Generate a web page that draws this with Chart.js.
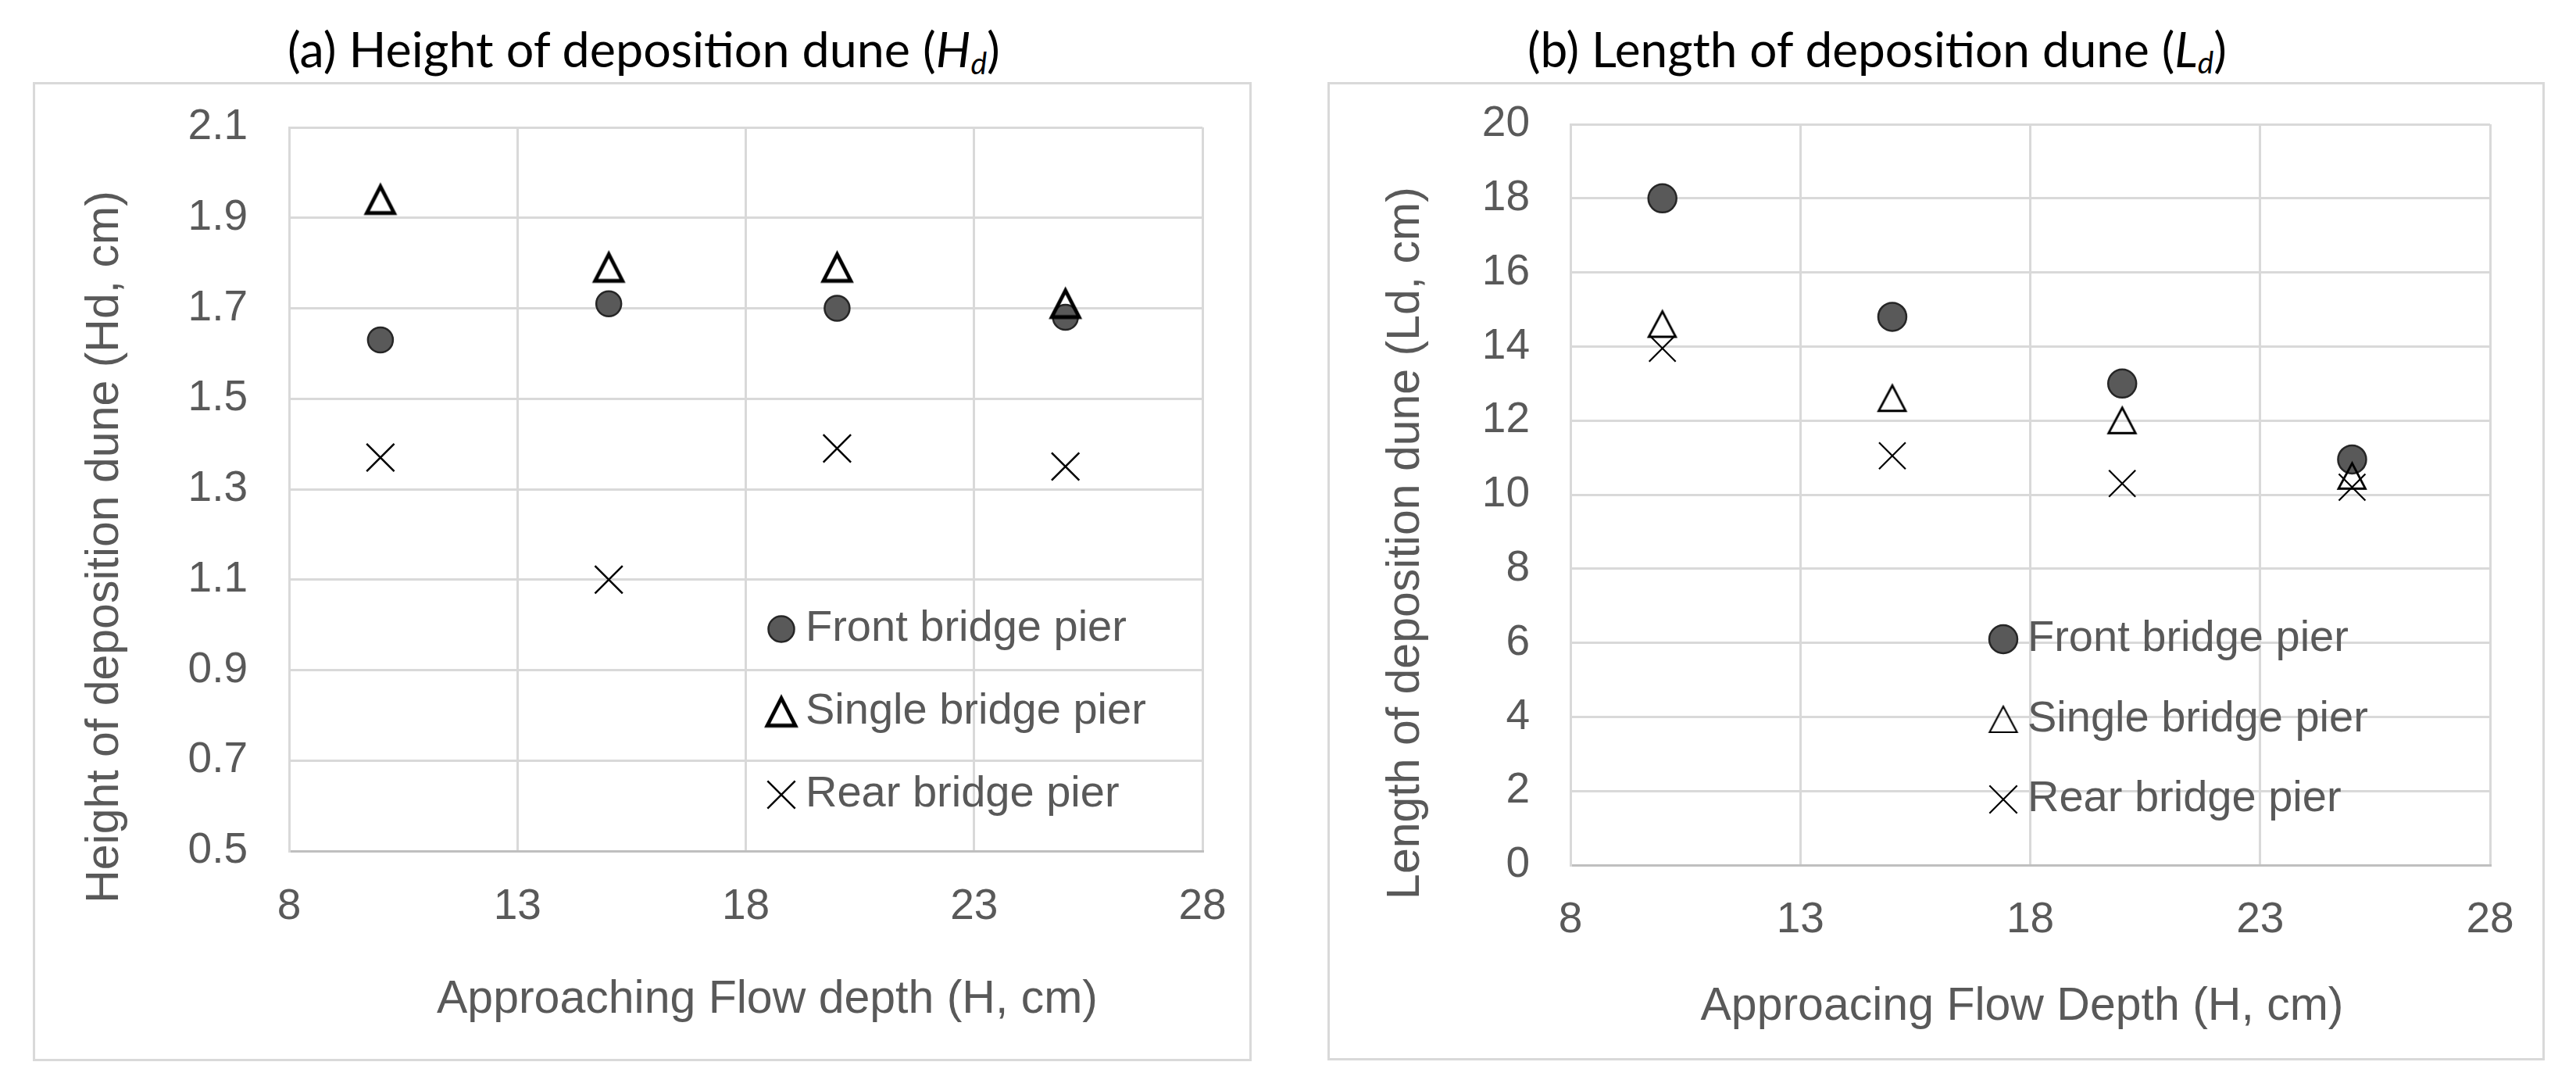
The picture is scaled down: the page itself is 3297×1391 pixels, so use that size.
<!DOCTYPE html>
<html>
<head>
<meta charset="utf-8">
<script src="https://cdn.jsdelivr.net/npm/chart.js@4.4.1/dist/chart.umd.min.js"></script>
<style>
  html, body { margin: 0; padding: 0; background: #fff; }
  body { width: 3297px; height: 1391px; position: relative; overflow: hidden; }
  .frame { position: absolute; box-sizing: border-box; border: 3px solid #d9d9d9; background: #fff; }
  canvas { position: absolute; }
  .title { position: absolute; white-space: nowrap; font-family: Lato, "Open Sans", sans-serif; font-size: 52px; line-height: 1; color: #000; }
  .title sub { font-size: 0.62em; vertical-align: -0.22em; line-height: 0; }
</style>
</head>
<body>
<div class="frame" style="left:42px;top:105px;width:1560px;height:1253px"></div>
<div class="frame" style="left:1699px;top:105px;width:1558px;height:1252px"></div>
<canvas id="hd_chart" width="1560" height="1253" style="left:42px;top:105px"></canvas>
<canvas id="ld_chart" width="1558" height="1252" style="left:1699px;top:105px"></canvas>
<div class="title" data-w="912" style="left:368px;top:31px">(a) Height of deposition dune (<i>H<sub>d</sub></i>)</div>
<div class="title" data-w="895" style="left:1955px;top:31px">(b) Length of deposition dune (<i>L<sub>d</sub></i>)</div>
<script>
// approaching flow depth (cm)
const depths = [10, 15, 20, 25];
const xTicks = [8, 13, 18, 23, 28];

// (a) height of deposition dune Hd (cm)
const hdFront = [1.63, 1.71, 1.70, 1.68];
const hdSingle = [1.94, 1.79, 1.79, 1.71];
const hdRear = [1.37, 1.10, 1.39, 1.35];
const hdTicks = [0.5, 0.7, 0.9, 1.1, 1.3, 1.5, 1.7, 1.9, 2.1];

// (b) length of deposition dune Ld (cm)
const ldFront = [18.0, 14.8, 13.0, 10.95];
const ldSingle = [14.6, 12.6, 12.0, 10.5];
const ldRear = [13.95, 11.05, 10.3, 10.2];
const ldTicks = [0, 2, 4, 6, 8, 10, 12, 14, 16, 18, 20];

const seriesNames = ['Front bridge pier', 'Single bridge pier', 'Rear bridge pier'];

const FONT = '"Liberation Sans", Arial, sans-serif';
const GREY = '#595959';

// fit the two chart titles to the width they take in the figure
document.querySelectorAll('.title').forEach(el => {
  const w = el.getBoundingClientRect().width;
  el.style.fontSize = (52 * Number(el.dataset.w) / w).toFixed(2) + 'px';
});

// excel style open triangle, centred on its box
function triangle(w, h, lw) {
  const pad = Math.ceil(lw * 3);
  const c = document.createElement('canvas');
  c.width = Math.round(w + pad * 2);
  c.height = Math.round(h + pad * 2);
  const g = c.getContext('2d');
  g.lineWidth = lw;
  g.lineJoin = 'miter';
  g.strokeStyle = '#000';
  g.beginPath();
  g.moveTo(c.width / 2, pad);
  g.lineTo(pad, pad + h);
  g.lineTo(pad + w, pad + h);
  g.closePath();
  g.stroke();
  return c;
}

function toPoints(ys) {
  return depths.map((x, i) => ({x: x, y: ys[i]}));
}

const panelExtras = {
  id: 'panelExtras',
  afterDraw(chart, args, o) {
    const ctx = chart.ctx;
    ctx.save();
    ctx.fillStyle = GREY;
    ctx.textBaseline = 'middle';
    ctx.textAlign = 'center';
    ctx.font = o.axisSize + 'px ' + FONT;
    ctx.fillText(o.xTitle, o.xTitleAt[0], o.xTitleAt[1]);
    ctx.save();
    ctx.translate(o.yTitleAt[0], o.yTitleAt[1]);
    ctx.rotate(-Math.PI / 2);
    ctx.fillText(o.yTitle, 0, 0);
    ctx.restore();

    ctx.font = o.legendSize + 'px ' + FONT;
    ctx.textAlign = 'left';
    chart.data.datasets.forEach((ds, i) => {
      const m = o.markers[i];
      const y = o.legendAt[1] + i * o.legendStep;
      ctx.save();
      ctx.fillStyle = ds.backgroundColor;
      ctx.strokeStyle = ds.borderColor;
      ctx.lineWidth = m.borderWidth;
      Chart.helpers.drawPoint(ctx, {pointStyle: m.pointStyle, radius: m.radius, borderWidth: m.borderWidth, rotation: 0}, o.legendAt[0], y);
      ctx.restore();
      ctx.fillStyle = GREY;
      ctx.fillText(ds.label, o.legendTextX, y);
    });
    ctx.restore();
  }
};

function makeChart(id, cfg) {
  const ctx = document.getElementById(id).getContext('2d');
  return new Chart(ctx, {
    type: 'scatter',
    data: {
      datasets: [{
        label: seriesNames[0],
        data: toPoints(cfg.front),
        pointStyle: 'circle',
        pointRadius: cfg.circleR,
        backgroundColor: GREY,
        borderColor: '#262626',
        borderWidth: 2.5,
        order: 3
      }, {
        label: seriesNames[1],
        data: toPoints(cfg.single),
        pointStyle: cfg.tri,
        pointRadius: 18,
        backgroundColor: 'rgba(0,0,0,0)',
        borderColor: '#000',
        borderWidth: 0,
        order: 2
      }, {
        label: seriesNames[2],
        data: toPoints(cfg.rear),
        pointStyle: 'crossRot',
        pointRadius: cfg.crossR,
        backgroundColor: 'rgba(0,0,0,0)',
        borderColor: '#000',
        borderWidth: cfg.crossW,
        order: 1
      }]
    },
    options: {
      responsive: false,
      animation: false,
      events: [],
      layout: {
        autoPadding: false,
        padding: {left: 0, top: cfg.top, right: cfg.right, bottom: 0}
      },
      plugins: {
        legend: {display: false},
        tooltip: {enabled: false},
        panelExtras: cfg.extras
      },
      scales: {
        x: {
          type: 'linear',
          min: 8,
          max: 28,
          afterBuildTicks: s => { s.ticks = xTicks.map(v => ({value: v})); },
          afterFit: s => { s.height = cfg.xHeight; s.paddingLeft = 0; s.paddingRight = 0; },
          grid: {color: '#d9d9d9', lineWidth: 3, drawTicks: false},
          border: {color: '#bfbfbf', width: 3},
          ticks: {
            color: GREY,
            padding: cfg.xPad,
            maxRotation: 0,
            autoSkip: false,
            font: {family: FONT, size: 55},
            callback: v => String(v)
          }
        },
        y: {
          type: 'linear',
          min: cfg.yTicks[0],
          max: cfg.yTicks[cfg.yTicks.length - 1],
          afterBuildTicks: s => { s.ticks = cfg.yTicks.map(v => ({value: v})); },
          afterFit: s => { s.width = cfg.yWidth; s.paddingTop = 0; s.paddingBottom = 0; },
          grid: {color: '#d9d9d9', lineWidth: 3, drawTicks: false},
          border: {color: '#d9d9d9', width: 3},
          ticks: {
            color: GREY,
            padding: cfg.yPad,
            autoSkip: false,
            font: {family: FONT, size: 55},
            callback: cfg.yLabel
          }
        }
      }
    },
    plugins: [panelExtras]
  });
}

makeChart('hd_chart', {
  front: hdFront, single: hdSingle, rear: hdRear, yTicks: hdTicks,
  yLabel: v => v.toFixed(1),
  tri: triangle(35, 34, 4.8),
  circleR: 16, crossR: 25, crossW: 2.5,
  top: 58, right: 63, yWidth: 328, xHeight: 269, yPad: 53, xPad: 39,
  extras: {
    xTitle: 'Approaching Flow depth (H, cm)', xTitleAt: [940, 1175],
    yTitle: 'Height of deposition dune (Hd, cm)', yTitleAt: [93, 595],
    axisSize: 59, legendSize: 56,
    legendAt: [958, 700], legendStep: 106, legendTextX: 989,
    markers: [
      {pointStyle: 'circle', radius: 16.5, borderWidth: 2.5},
      {pointStyle: triangle(36, 35, 4.8), radius: 18, borderWidth: 0},
      {pointStyle: 'crossRot', radius: 25, borderWidth: 2.5}
    ]
  }
});

makeChart('ld_chart', {
  front: ldFront, single: ldSingle, rear: ldRear, yTicks: ldTicks,
  yLabel: v => String(v),
  tri: triangle(34.5, 32.5, 2.8),
  circleR: 18, crossR: 24, crossW: 2.2,
  top: 54, right: 70, yWidth: 311, xHeight: 250, yPad: 52, xPad: 38,
  extras: {
    xTitle: 'Approacing Flow Depth (H, cm)', xTitleAt: [889, 1184],
    yTitle: 'Length of deposition dune (Ld, cm)', yTitleAt: [101, 590],
    axisSize: 59, legendSize: 56,
    legendAt: [865, 713], legendStep: 102.5, legendTextX: 896,
    markers: [
      {pointStyle: 'circle', radius: 18, borderWidth: 2.5},
      {pointStyle: triangle(35, 33, 2.2), radius: 18, borderWidth: 0},
      {pointStyle: 'crossRot', radius: 25, borderWidth: 2.2}
    ]
  }
});
</script>
</body>
</html>
